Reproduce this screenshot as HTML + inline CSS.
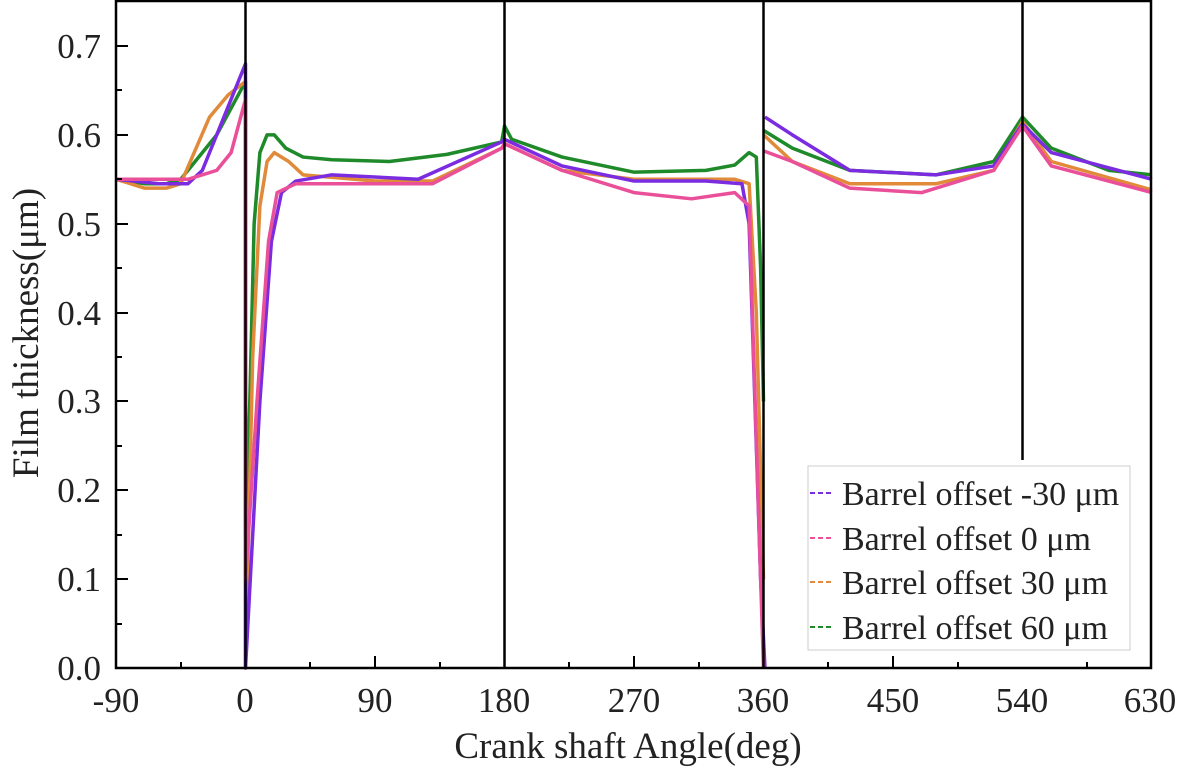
<!DOCTYPE html><html><head><style>body{margin:0;background:#fff}</style></head><body>
<svg width="1182" height="772" xmlns="http://www.w3.org/2000/svg" font-family="Liberation Serif, serif">
<rect width="1182" height="772" fill="#fff"/>
<g transform="translate(245.5,668) scale(1.4389,-888.6)" fill="none" stroke-linejoin="round">
<polyline vector-effect="non-scaling-stroke" stroke-width="3.5" stroke="#1f8a2a" points="-90,.55 -70,.545 -55,.545 -45,.55 -20,.6 0,.66 0,.15 3,.3 6,.5 10,.58 15,.6 20,.6 28,.585 40,.575 60,.572 100,.57 140,.578 178,.592 180,.61 185,.595 220,.575 270,.558 320,.56 340,.566 350,.58 355,.575 358,.45 360,.3"/>
<polyline vector-effect="non-scaling-stroke" stroke-width="3.5" stroke="#1f8a2a" points="360,.605 380,.585 420,.56 480,.555 520,.57 540,.62 560,.585 600,.56 630,.555"/>
<polyline vector-effect="non-scaling-stroke" stroke-width="3.5" stroke="#e08a3a" points="-90,.55 -70,.54 -55,.54 -45,.545 -25,.62 -12,.645 0,.66 0,0 5,.35 10,.52 15,.57 20,.58 30,.57 40,.555 90,.548 130,.548 178,.585 180,.59 220,.56 270,.55 340,.55 350,.545 355,.4 360,.1"/>
<polyline vector-effect="non-scaling-stroke" stroke-width="3.5" stroke="#e08a3a" points="360,.6 380,.57 420,.545 480,.545 520,.56 540,.615 560,.57 630,.538"/>
<polyline vector-effect="non-scaling-stroke" stroke-width="3.5" stroke="#7b2be0" points="-90,.55 -60,.545 -40,.545 -30,.56 -15,.62 0,.68 0,0 10,.3 18,.48 25,.535 35,.548 60,.555 120,.55 178,.592 180,.595 220,.565 270,.548 320,.548 345,.545 350,.5 358,.1 361,0"/>
<polyline vector-effect="non-scaling-stroke" stroke-width="3.5" stroke="#7b2be0" points="361,.62 380,.6 420,.56 480,.555 520,.565 540,.612 560,.58 630,.55"/>
<polyline vector-effect="non-scaling-stroke" stroke-width="3.5" stroke="#ea4f9a" points="-90,.55 -40,.55 -20,.56 -10,.58 0,.64 0,.1 8,.3 16,.48 22,.535 35,.545 90,.545 130,.545 178,.585 180,.59 220,.56 270,.535 310,.528 340,.535 350,.52 358,.1 360,0"/>
<polyline vector-effect="non-scaling-stroke" stroke-width="3.5" stroke="#ea4f9a" points="360,.582 380,.57 420,.54 470,.535 520,.56 540,.61 560,.565 630,.535"/>
</g>
<g stroke="#000" stroke-width="2.5">
<line x1="245.5" y1="0" x2="245.5" y2="668"/><line x1="504.5" y1="0" x2="504.5" y2="668"/><line x1="763.5" y1="0" x2="763.5" y2="668"/><line x1="1022.5" y1="0" x2="1022.5" y2="460"/>
</g>
<rect x="808" y="466" width="322" height="184" fill="#fff" stroke="#ccc" stroke-width="1"/>
<g stroke-width="2" stroke-dasharray="5,3">
<line x1="810" y1="493" x2="832" y2="493" stroke="#7b2be0"/><line x1="810" y1="538" x2="832" y2="538" stroke="#ea4f9a"/><line x1="810" y1="582" x2="832" y2="582" stroke="#e08a3a"/><line x1="810" y1="627" x2="832" y2="627" stroke="#1f8a2a"/>
</g>
<g font-size="34" fill="#222">
<text x="842" y="505">Barrel offset -30 μm</text><text x="842" y="550">Barrel offset 0 μm</text><text x="842" y="594">Barrel offset 30 μm</text><text x="842" y="639">Barrel offset 60 μm</text>
</g>
<rect x="116" y="1" width="1035" height="667" fill="none" stroke="#000" stroke-width="2.5"/>
<g stroke="#000" stroke-width="2">
<line x1="116" y1="668" x2="128" y2="668"/><line x1="116" y1="579" x2="128" y2="579"/><line x1="116" y1="490" x2="128" y2="490"/><line x1="116" y1="401" x2="128" y2="401"/><line x1="116" y1="313" x2="128" y2="313"/><line x1="116" y1="224" x2="128" y2="224"/><line x1="116" y1="135" x2="128" y2="135"/><line x1="116" y1="46" x2="128" y2="46"/>
<line x1="116" y1="624" x2="122" y2="624"/><line x1="116" y1="535" x2="122" y2="535"/><line x1="116" y1="446" x2="122" y2="446"/><line x1="116" y1="357" x2="122" y2="357"/><line x1="116" y1="268" x2="122" y2="268"/><line x1="116" y1="179" x2="122" y2="179"/><line x1="116" y1="90" x2="122" y2="90"/>
<line x1="375" y1="668" x2="375" y2="656"/><line x1="634" y1="668" x2="634" y2="656"/><line x1="893" y1="668" x2="893" y2="656"/>
<line x1="181" y1="668" x2="181" y2="662"/><line x1="310" y1="668" x2="310" y2="662"/><line x1="440" y1="668" x2="440" y2="662"/><line x1="569" y1="668" x2="569" y2="662"/><line x1="699" y1="668" x2="699" y2="662"/><line x1="828" y1="668" x2="828" y2="662"/><line x1="958" y1="668" x2="958" y2="662"/><line x1="1087" y1="668" x2="1087" y2="662"/>
</g>
<g font-size="35" fill="#222" text-anchor="end">
<text x="101" y="680">0.0</text><text x="101" y="591">0.1</text><text x="101" y="502">0.2</text><text x="101" y="413">0.3</text><text x="101" y="325">0.4</text><text x="101" y="236">0.5</text><text x="101" y="147">0.6</text><text x="101" y="58">0.7</text>
</g>
<g font-size="35" fill="#222" text-anchor="middle">
<text x="116" y="712">-90</text><text x="245" y="712">0</text><text x="375" y="712">90</text><text x="504" y="712">180</text><text x="634" y="712">270</text><text x="763" y="712">360</text><text x="893" y="712">450</text><text x="1022" y="712">540</text><text x="1150" y="712">630</text>
<text x="628" y="758" font-size="37">Crank shaft Angle(deg)</text>
<text transform="translate(38,333) rotate(-90)" font-size="37">Film thickness(μm)</text>
</g>
</svg>
</body></html>
